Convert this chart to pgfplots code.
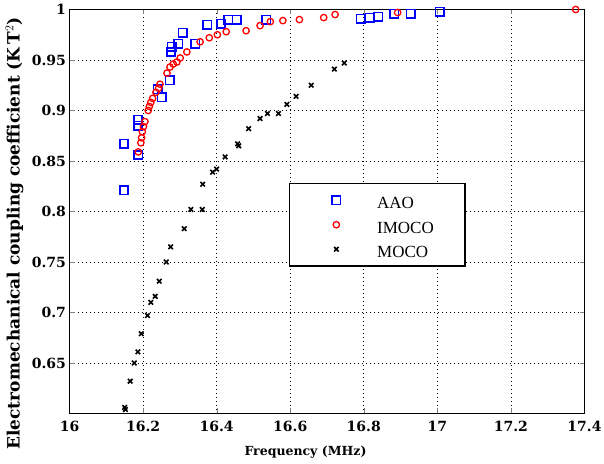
\documentclass[border=0pt]{standalone}
\usepackage{pgfplots}
\pgfplotsset{compat=1.18}
\usepackage{fontspec}
\setmainfont{Liberation Serif}
\newfontfamily\lblfont{DejaVu Serif}
\usetikzlibrary{calc}

% blue squares
\pgfplotstableread{
x y
16.148 0.821
16.148 0.867
16.186 0.885
16.186 0.891
16.187 0.856
16.240 0.921
16.251 0.913
16.272 0.930
16.276 0.958
16.278 0.963
16.296 0.966
16.308 0.977
16.342 0.966
16.375 0.985
16.412 0.986
16.432 0.990
16.455 0.990
16.535 0.990
16.792 0.991
16.816 0.992
16.839 0.993
16.883 0.996
16.928 0.996
17.006 0.998
}\aao

% red circles
\pgfplotstableread{
x y
16.187 0.859
16.194 0.868
16.196 0.873
16.198 0.879
16.201 0.884
16.205 0.889
16.214 0.900
16.217 0.904
16.221 0.908
16.226 0.912
16.235 0.918
16.242 0.922
16.246 0.926
16.265 0.937
16.273 0.943
16.282 0.946
16.292 0.948
16.301 0.952
16.319 0.958
16.355 0.968
16.380 0.972
16.402 0.975
16.426 0.978
16.480 0.979
16.518 0.984
16.546 0.988
16.580 0.989
16.625 0.990
16.691 0.992
16.722 0.995
16.892 0.997
17.376 1.000
}\imoco

% black crosses
\pgfplotstableread{
x y
16.150 0.606
16.152 0.604
16.165 0.632
16.176 0.650
16.186 0.661
16.195 0.679
16.212 0.697
16.221 0.710
16.233 0.716
16.244 0.731
16.263 0.750
16.275 0.765
16.312 0.783
16.330 0.802
16.361 0.802
16.362 0.827
16.389 0.839
16.400 0.842
16.423 0.854
16.457 0.867
16.460 0.865
16.487 0.882
16.518 0.892
16.538 0.897
16.568 0.897
16.591 0.906
16.616 0.914
16.657 0.925
16.720 0.941
16.747 0.947
}\moco

\begin{document}
\begin{tikzpicture}
\begin{axis}[
    name=ax,
    scale only axis,
    width=515pt, height=404pt,
    xmin=16, xmax=17.4, ymin=0.6, ymax=1,
    clip=false,
    xtick={16,16.2,16.4,16.6,16.8,17,17.2,17.4},
    xticklabels={16,16.2,16.4,16.6,16.8,17,17.2,17.4},
    ytick={0.65,0.7,0.75,0.8,0.85,0.9,0.95,1},
    yticklabels={0.65,0.7,0.75,0.8,0.85,0.9,0.95,1},
    tick label style={font=\lblfont\bfseries\fontsize{14}{14}\selectfont},
    xticklabel style={yshift=-4pt},
    tick align=inside,
    major tick length=5pt,
    axis line style={black, line width=0.8pt},
    grid=major,
    major grid style={black, line width=0.7pt, dash pattern=on 0.8pt off 3.2pt},
    legend style={at={(0.426,0.571)}, anchor=north west, draw=black,
        line width=1.3pt, font=\fontsize{17}{17}\selectfont,
        nodes={inner sep=0pt}, column sep=0pt,
        row sep=4pt, inner xsep=0pt, inner ysep=6.5pt},
    legend cell align=left,
    legend image code/.code={%
        \path (-46pt,0pt) (40pt,0pt);
        \draw[#1] plot coordinates {(0pt,0pt)};},
]
\addplot[only marks, mark=square, mark size=4.2pt, blue, line width=1.6pt] table {\aao};
\addlegendentry{\makebox[88pt][l]{\rule[-7pt]{0pt}{26pt}AAO}}
\addplot[only marks, mark=o, mark size=3.2pt, red, line width=1.3pt] table {\imoco};
\addlegendentry{\makebox[88pt][l]{\rule[-7pt]{0pt}{26pt}IMOCO}}
\addplot[only marks, mark=x, mark size=3.2pt, black, line width=1.6pt] table {\moco};
\addlegendentry{\makebox[88pt][l]{\rule[-7pt]{0pt}{26pt}MOCO}}
\end{axis}
\node[rotate=90, font=\lblfont\bfseries\fontsize{17}{17}\selectfont]
    at ($(ax.south west)+(-55pt,180pt)$) {Electromechanical coupling coefficient (K\,T$^{2}$)};
\node[font=\lblfont\bfseries\fontsize{12.5}{12.5}\selectfont]
    at ($(ax.south west)+(236pt,-38.5pt)$) {Frequency (MHz)};
\pgfresetboundingbox
\path[use as bounding box] ($(ax.south west)+(-69.5pt,-50.5pt)$) rectangle ($(ax.north east)+(19.5pt,9.5pt)$);
\end{tikzpicture}
\end{document}
